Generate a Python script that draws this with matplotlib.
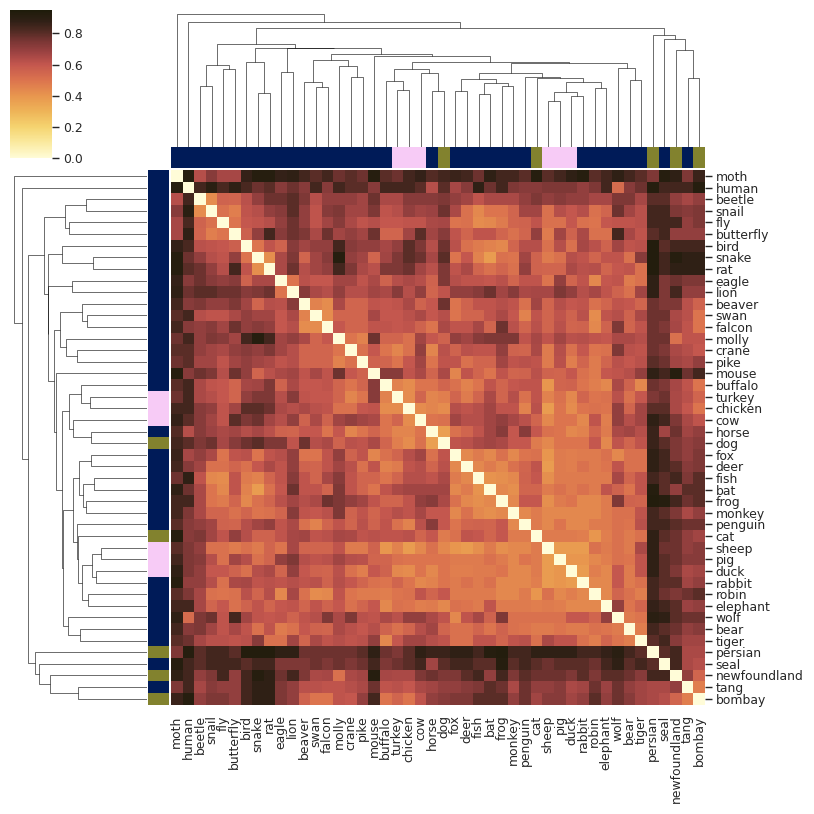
import matplotlib
matplotlib.use("Agg")
import matplotlib.pyplot as plt
import numpy as np
from matplotlib.colors import LinearSegmentedColormap, ListedColormap
from matplotlib.collections import LineCollection

plt.rcParams['font.family'] = ['DejaVu Sans']
plt.rcParams['text.color'] = '.15'
plt.rcParams['xtick.color'] = '.15'
plt.rcParams['ytick.color'] = '.15'

# leaf order as shown on both axes
animals = ['moth', 'human', 'beetle', 'snail', 'fly', 'butterfly', 'bird', 'snake',
           'rat', 'eagle', 'lion', 'beaver', 'swan', 'falcon', 'molly', 'crane',
           'pike', 'mouse', 'buffalo', 'turkey', 'chicken', 'cow', 'horse', 'dog',
           'fox', 'deer', 'fish', 'bat', 'frog', 'monkey', 'penguin', 'cat',
           'sheep', 'pig', 'duck', 'rabbit', 'robin', 'elephant', 'wolf', 'bear',
           'tiger', 'persian', 'seal', 'newfoundland', 'tang', 'bombay']

# side bar category for each animal
groups = ['other'] * 19 + ['farm'] * 3 + ['other', 'pet'] + ['other'] * 7 + ['pet'] \
    + ['farm'] * 3 + ['other'] * 6 + ['pet', 'other', 'pet', 'other', 'pet']
group_colors = {'other': '#001b58', 'farm': '#f7cbf6', 'pet': '#82822e'}

# lower triangle of the distance matrix, in percent (row i holds columns 0..i-1)
lower = [
    [],
    [92],
    [63, 84],
    [72, 90, 43],
    [66, 83, 56, 51],
    [66, 88, 55, 47, 50],
    [87, 83, 62, 61, 60, 57],
    [92, 77, 70, 63, 61, 70, 50],
    [92, 80, 77, 70, 63, 84, 61, 42],
    [87, 72, 77, 72, 70, 72, 56, 65, 65],
    [88, 77, 80, 80, 77, 77, 72, 74, 77, 50],
    [84, 72, 74, 70, 70, 74, 67, 55, 63, 62, 72],
    [80, 84, 63, 61, 61, 65, 70, 67, 67, 60, 65, 46],
    [84, 72, 70, 72, 67, 77, 70, 72, 70, 60, 63, 43, 43],
    [77, 84, 70, 74, 72, 67, 84, 92, 84, 67, 70, 65, 55, 60],
    [80, 80, 70, 67, 65, 70, 72, 70, 74, 67, 63, 55, 55, 55, 50],
    [77, 80, 67, 67, 61, 67, 70, 67, 65, 61, 63, 55, 55, 55, 46, 51],
    [92, 72, 77, 74, 63, 77, 70, 55, 62, 65, 67, 61, 66, 61, 77, 60, 56],
    [80, 84, 65, 61, 60, 55, 66, 67, 74, 56, 65, 60, 60, 61, 55, 50, 55, 72],
    [77, 84, 65, 63, 60, 55, 70, 74, 74, 63, 72, 61, 60, 60, 55, 45, 50, 72, 46],
    [84, 84, 72, 70, 61, 67, 80, 80, 77, 65, 63, 65, 62, 61, 51, 51, 60, 61, 43, 43],
    [87, 80, 72, 67, 61, 80, 74, 77, 67, 63, 70, 56, 65, 56, 67, 70, 67, 65, 50, 55,
     43],
    [81, 63, 72, 68, 65, 67, 63, 66, 62, 56, 55, 60, 60, 50, 60, 45, 50, 55, 50, 45,
     45, 50],
    [84, 80, 74, 77, 66, 72, 77, 80, 74, 74, 61, 77, 63, 65, 56, 62, 61, 65, 55, 47,
     43, 51, 37],
    [86, 66, 70, 65, 50, 61, 62, 50, 61, 63, 70, 50, 50, 61, 70, 56, 61, 45, 51, 55,
     63, 67, 51, 61],
    [84, 72, 67, 51, 51, 55, 51, 60, 65, 61, 70, 56, 55, 61, 67, 62, 51, 61, 46, 48,
     61, 63, 55, 62, 44],
    [77, 88, 61, 44, 43, 61, 48, 46, 55, 61, 72, 61, 55, 66, 72, 61, 55, 55, 50, 55,
     63, 63, 61, 65, 48, 44],
    [88, 77, 65, 50, 44, 61, 46, 38, 51, 60, 77, 61, 61, 55, 74, 61, 55, 50, 61, 65,
     67, 67, 67, 67, 44, 48, 41],
    [84, 84, 65, 50, 48, 55, 44, 51, 55, 62, 67, 63, 65, 77, 74, 70, 67, 61, 55, 55,
     61, 70, 72, 65, 51, 44, 42, 44],
    [84, 74, 65, 55, 55, 51, 55, 50, 51, 55, 72, 61, 60, 62, 74, 56, 61, 55, 60, 63,
     61, 66, 60, 60, 44, 51, 44, 42, 44],
    [80, 72, 70, 67, 56, 55, 63, 67, 70, 61, 65, 51, 46, 55, 61, 55, 62, 56, 61, 51,
     46, 62, 72, 60, 50, 55, 56, 55, 60, 44],
    [92, 72, 74, 67, 61, 70, 63, 56, 56, 61, 66, 67, 61, 62, 66, 65, 61, 62, 61, 61,
     62, 55, 60, 48, 51, 61, 60, 55, 60, 48, 48],
    [80, 74, 70, 51, 51, 48, 51, 48, 55, 50, 66, 55, 55, 55, 61, 48, 48, 56, 40, 46,
     38, 44, 51, 44, 40, 38, 42, 48, 42, 44, 44, 48],
    [84, 74, 72, 63, 51, 67, 63, 51, 55, 70, 74, 63, 61, 62, 67, 63, 62, 55, 55, 51,
     50, 50, 50, 50, 48, 48, 48, 51, 48, 44, 50, 48, 38],
    [88, 74, 70, 60, 60, 56, 51, 63, 65, 55, 70, 60, 56, 55, 62, 51, 47, 60, 56, 44,
     43, 50, 44, 50, 47, 47, 48, 48, 50, 44, 44, 48, 38, 40],
    [92, 70, 70, 63, 51, 65, 66, 61, 62, 61, 63, 61, 62, 56, 63, 60, 55, 51, 50, 55,
     50, 44, 46, 50, 48, 51, 48, 51, 44, 44, 44, 47, 38, 40, 38],
    [80, 74, 66, 51, 50, 51, 62, 55, 63, 44, 66, 51, 43, 44, 61, 50, 48, 48, 47, 50,
     51, 61, 55, 60, 48, 48, 48, 48, 44, 44, 48, 40, 51, 44, 47, 44],
    [84, 84, 66, 55, 60, 51, 56, 61, 55, 60, 61, 55, 61, 56, 60, 51, 55, 60, 44, 51,
     50, 47, 48, 44, 51, 50, 48, 61, 48, 48, 48, 47, 48, 47, 44, 44, 44],
    [88, 53, 74, 77, 61, 84, 67, 61, 60, 61, 56, 61, 63, 74, 65, 74, 62, 61, 65, 62,
     70, 70, 65, 61, 44, 61, 66, 56, 74, 51, 51, 51, 51, 51, 60, 60, 55, 70],
    [84, 72, 74, 67, 61, 66, 61, 51, 61, 48, 51, 60, 56, 55, 65, 62, 60, 63, 56, 51,
     55, 63, 67, 55, 51, 51, 55, 50, 56, 51, 50, 48, 48, 50, 48, 48, 51, 50, 48],
    [80, 77, 66, 62, 62, 61, 62, 72, 51, 51, 67, 55, 65, 61, 63, 61, 62, 70, 44, 60,
     67, 67, 63, 61, 51, 51, 61, 61, 55, 61, 62, 51, 65, 61, 61, 51, 47, 55, 50, 47],
    [74, 92, 80, 84, 84, 80, 93, 93, 93, 88, 88, 77, 77, 77, 77, 77, 80, 88, 77, 74,
     80, 88, 86, 86, 88, 88, 84, 92, 93, 84, 84, 88, 88, 88, 88, 84, 84, 87, 90, 84,
     80],
    [92, 84, 80, 84, 84, 84, 80, 84, 84, 74, 74, 74, 77, 74, 77, 74, 77, 84, 74, 77,
     80, 84, 67, 80, 84, 84, 80, 80, 92, 80, 84, 80, 77, 80, 80, 80, 77, 84, 88, 80,
     84, 80],
    [88, 84, 70, 74, 84, 70, 84, 92, 88, 77, 84, 74, 65, 66, 51, 65, 67, 92, 66, 65,
     65, 74, 77, 74, 74, 80, 84, 70, 84, 74, 80, 77, 77, 77, 74, 80, 74, 80, 80, 77,
     72, 84, 84],
    [74, 84, 66, 72, 70, 70, 84, 88, 88, 74, 70, 62, 62, 61, 61, 63, 65, 77, 61, 62,
     60, 65, 67, 70, 70, 72, 74, 80, 77, 65, 77, 70, 70, 72, 65, 67, 77, 68, 77, 70,
     67, 65, 65, 70],
    [86, 92, 70, 74, 74, 70, 84, 88, 88, 74, 70, 56, 50, 50, 61, 60, 70, 84, 50, 55,
     50, 61, 70, 72, 74, 74, 80, 80, 80, 70, 77, 67, 72, 72, 67, 70, 80, 70, 77, 72,
     67, 65, 63, 55, 47],
]

# clustering tree: (left, right, merge height)
tree = (
    'moth',
    ('human',
     (((('beetle', 'snail', 0.603), ('fly', 'butterfly', 0.773), 0.813),
       (('bird', ('snake', 'rat', 0.533), 0.843),
        (('eagle', 'lion', 0.75),
         ((('beaver', ('swan', 'falcon', 0.60), 0.647),
           ('molly', ('crane', 'pike', 0.693), 0.803), 0.863),
          ('mouse',
           ((('buffalo', ('turkey', 'chicken', 0.567), 0.66),
             ('cow', ('horse', 'dog', 0.557), 0.74), 0.773),
            (((('fox', 'deer', 0.557),
               (('fish', 'bat', 0.527), ('frog', 'monkey', 0.61), 0.64), 0.673),
              ('penguin',
               ('cat',
                (((('sheep', 'pig', 0.457), ('duck', 'rabbit', 0.51), 0.543),
                  ('robin', 'elephant', 0.583), 0.65)), 0.683), 0.693), 0.733),
             ('wolf', ('bear', 'tiger', 0.667), 0.783), 0.84), 0.85), 0.91),
          0.923), 0.983), 0.99), 1.023),
      ('persian', ('seal', ('newfoundland', ('tang', 'bombay', 0.69), 0.967), 1.073),
       1.117), 1.183), 1.243),
    1.323)

n = len(animals)
dist = np.zeros((n, n))
for i, row in enumerate(lower):
    for j, v in enumerate(row):
        dist[i, j] = dist[j, i] = v / 100

cmap = LinearSegmentedColormap.from_list('dist', [
    (0.00, '#fffcd8'), (0.105, '#faeaa0'), (0.21, '#f5d470'), (0.316, '#eeb458'),
    (0.421, '#e8964e'), (0.526, '#dc744e'), (0.632, '#c4574e'), (0.716, '#9c4242'),
    (0.79, '#7a3634'), (0.863, '#4e2a22'), (0.926, '#302016'), (1.0, '#1e1c0a')])


def segments(node, pos):
    if isinstance(node, str):
        return pos[node], 0.0, []
    left, right, h = node
    xl, hl, sl = segments(left, pos)
    xr, hr, sr = segments(right, pos)
    seg = [(xl, hl), (xl, h), (xr, h), (xr, hr)]
    return (xl + xr) / 2, h, sl + sr + [seg]


pos = {a: i + 0.5 for i, a in enumerate(animals)}
_, top_h, segs = segments(tree, pos)

fig = plt.figure(figsize=(10, 10), dpi=81.4)

# heatmap
ax = fig.add_axes([0.2100, 0.1345, 0.6561, 0.6564])
mesh = ax.pcolormesh(np.arange(n + 1), np.arange(n + 1), dist, cmap=cmap,
                     vmin=0, vmax=0.95)
ax.set_xlim(0, n)
ax.set_ylim(n, 0)
ax.set_xticks(np.arange(n) + 0.5)
ax.set_xticklabels(animals, rotation=90, fontsize=11)
ax.set_yticks(np.arange(n) + 0.5)
ax.set_yticklabels(animals, rotation=0, fontsize=11)
ax.yaxis.set_ticks_position('right')
ax.tick_params(axis='x', bottom=False, length=6, pad=3.5)
ax.tick_params(axis='y', length=6, width=1.25, pad=3.5)
for s in ax.spines.values():
    s.set_visible(False)

# side colour bars
grp_names = list(group_colors)
grp_idx = np.array([grp_names.index(g) for g in groups])
grp_cmap = ListedColormap([group_colors[g] for g in grp_names])

ax_cc = fig.add_axes([0.2100, 0.7932, 0.6561, 0.0266])
ax_cc.pcolormesh(np.arange(n + 1), [0, 1], grp_idx[None, :], cmap=grp_cmap,
                 vmin=-0.5, vmax=len(grp_names) - 0.5)
ax_cc.set_xlim(0, n)
ax_cc.axis('off')

ax_rc = fig.add_axes([0.1822, 0.1345, 0.0255, 0.6564])
ax_rc.pcolormesh([0, 1], np.arange(n + 1), grp_idx[:, None], cmap=grp_cmap,
                 vmin=-0.5, vmax=len(grp_names) - 0.5)
ax_rc.set_ylim(n, 0)
ax_rc.axis('off')

# dendrograms
ax_cd = fig.add_axes([0.2100, 0.8200, 0.6561, 0.1706])
ax_cd.add_collection(LineCollection(segs, linewidths=0.5, colors='k'))
ax_cd.set_xlim(0, n)
ax_cd.set_ylim(0, top_h * 1.05)
ax_cd.axis('off')

ax_rd = fig.add_axes([0.0096, 0.1345, 0.1706, 0.6564])
ax_rd.add_collection(LineCollection([[(y, x) for x, y in s] for s in segs],
                                    linewidths=0.5, colors='k'))
ax_rd.set_ylim(n, 0)
ax_rd.set_xlim(top_h * 1.05, 0)
ax_rd.axis('off')

# colorbar
cax = fig.add_axes([0.0123, 0.8053, 0.0516, 0.1824])
cb = fig.colorbar(mesh, cax=cax)
cb.outline.set_visible(False)
cax.tick_params(length=6, width=1.25, labelsize=11, pad=3.5)

fig.savefig('out.png', dpi=81.4)
